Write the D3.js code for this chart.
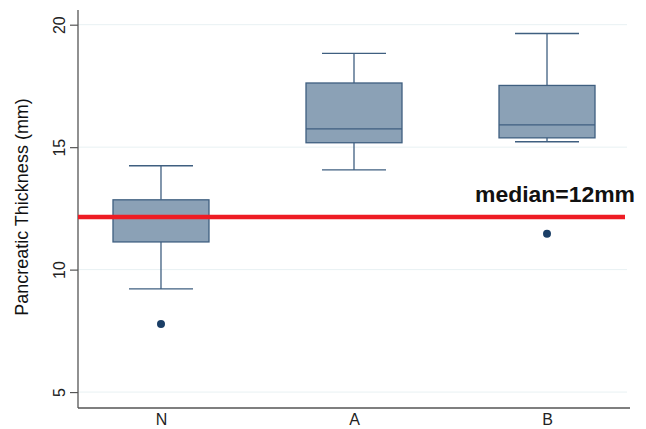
<!DOCTYPE html>
<html>
<head>
<title>Pancreatic Thickness</title>
<script src="https://cdnjs.cloudflare.com/ajax/libs/d3/7.8.5/d3.min.js"></script>
<style>
  body { margin: 0; background: #fff; }
  text { font-family: "Liberation Sans", Arial, sans-serif; }
</style>
</head>
<body>
<div id="chart"></div>
<script>
// values
var groups = ["N", "A", "B"];
var lowWhisker = [9.21, 14.07, 15.22];
var q1 = [11.13, 15.18, 15.38];
var medians = [12.1, 15.75, 15.91];
var q3 = [12.85, 17.62, 17.52];
var highWhisker = [14.24, 18.83, 19.64];
var outliers = [["N", 7.78], ["B", 11.46]];
var yTicks = [5, 10, 15, 20];
var refLine = 12.15;
var refLabel = "median=12mm";

var W = 646, H = 429;
var margin = { top: 10, right: 16, bottom: 21, left: 78 };
var width = W - margin.left - margin.right,
    height = H - margin.top - margin.bottom;

var svg = d3.select("#chart").append("svg")
    .attr("width", W)
    .attr("height", H)
  .append("g")
    .attr("transform", "translate(" + margin.left + "," + margin.top + ")");

var x = d3.scalePoint().domain(groups).range([0, width]).padding(0.43);
var y = d3.scaleLinear().domain([4.35, 20.6]).range([height, 0]);

// grid
svg.selectAll(".grid")
    .data(yTicks)
  .enter().append("line")
    .attr("x1", 0).attr("x2", width - 3)
    .attr("y1", function (d) { return y(d); })
    .attr("y2", function (d) { return y(d); })
    .attr("stroke", "#e8f1f3")
    .attr("stroke-width", 1);

// y axis
var yAxis = svg.append("g").call(d3.axisLeft(y).tickValues(yTicks).tickSize(8).tickPadding(5));
yAxis.select(".domain").attr("stroke", "#555").attr("stroke-width", 1.3).attr("d", "M0," + height + "V0");
yAxis.selectAll(".tick line").attr("stroke", "#555").attr("stroke-width", 1.2);
yAxis.selectAll(".tick text")
    .attr("font-size", 16)
    .attr("fill", "#222")
    .attr("text-anchor", "middle")
    .attr("transform", "rotate(-90)")
    .attr("x", 0)
    .attr("y", -19)
    .attr("dy", "0.35em");

// x axis
var xAxis = svg.append("g")
    .attr("transform", "translate(0," + height + ")")
    .call(d3.axisBottom(x).tickSize(0).tickPadding(6));
xAxis.select(".domain").attr("stroke", "#555").attr("stroke-width", 1.3).attr("d", "M0,0H" + width);
xAxis.selectAll(".tick text").attr("font-size", 16).attr("fill", "#222");

// y title
svg.append("text")
    .attr("transform", "translate(" + (-50) + "," + (height / 2 - 2) + ") rotate(-90)")
    .attr("text-anchor", "middle")
    .attr("font-size", 18)
    .attr("fill", "#111")
    .text("Pancreatic Thickness (mm)");

var boxW = 96, capW = 64;
var col = "#3f5f80";

var g = svg.selectAll(".box")
    .data(groups)
  .enter().append("g")
    .attr("transform", function (d) { return "translate(" + x(d) + ",0)"; });

// whiskers
g.append("line")
    .attr("x1", 0).attr("x2", 0)
    .attr("y1", function (d, i) { return y(q3[i]); })
    .attr("y2", function (d, i) { return y(highWhisker[i]); })
    .attr("stroke", col).attr("stroke-width", 1.3);
g.append("line")
    .attr("x1", 0).attr("x2", 0)
    .attr("y1", function (d, i) { return y(q1[i]); })
    .attr("y2", function (d, i) { return y(lowWhisker[i]); })
    .attr("stroke", col).attr("stroke-width", 1.3);
g.append("line")
    .attr("x1", -capW / 2).attr("x2", capW / 2)
    .attr("y1", function (d, i) { return y(highWhisker[i]); })
    .attr("y2", function (d, i) { return y(highWhisker[i]); })
    .attr("stroke", col).attr("stroke-width", 1.3);
g.append("line")
    .attr("x1", -capW / 2).attr("x2", capW / 2)
    .attr("y1", function (d, i) { return y(lowWhisker[i]); })
    .attr("y2", function (d, i) { return y(lowWhisker[i]); })
    .attr("stroke", col).attr("stroke-width", 1.3);

// box
g.append("rect")
    .attr("x", -boxW / 2)
    .attr("width", boxW)
    .attr("y", function (d, i) { return y(q3[i]); })
    .attr("height", function (d, i) { return y(q1[i]) - y(q3[i]); })
    .attr("fill", "#8ba1b6")
    .attr("stroke", col)
    .attr("stroke-width", 1.3);

// median
g.append("line")
    .attr("x1", -boxW / 2).attr("x2", boxW / 2)
    .attr("y1", function (d, i) { return y(medians[i]); })
    .attr("y2", function (d, i) { return y(medians[i]); })
    .attr("stroke", col).attr("stroke-width", 1.3);

// outliers
svg.selectAll(".out")
    .data(outliers)
  .enter().append("circle")
    .attr("cx", function (d) { return x(d[0]); })
    .attr("cy", function (d) { return y(d[1]); })
    .attr("r", 4)
    .attr("fill", "#1a3e66");

// red reference line
svg.append("line")
    .attr("x1", 0).attr("x2", width - 5)
    .attr("y1", y(refLine)).attr("y2", y(refLine))
    .attr("stroke", "#ee1c24")
    .attr("stroke-width", 4.5);

svg.append("text")
    .attr("x", width + 5)
    .attr("y", y(refLine) - 15)
    .attr("text-anchor", "end")
    .attr("font-size", 22)
    .attr("font-weight", "bold")
    .attr("fill", "#111")
    .attr("textLength", 160)
    .attr("lengthAdjust", "spacingAndGlyphs")
    .text(refLabel);
</script>
</body>
</html>
